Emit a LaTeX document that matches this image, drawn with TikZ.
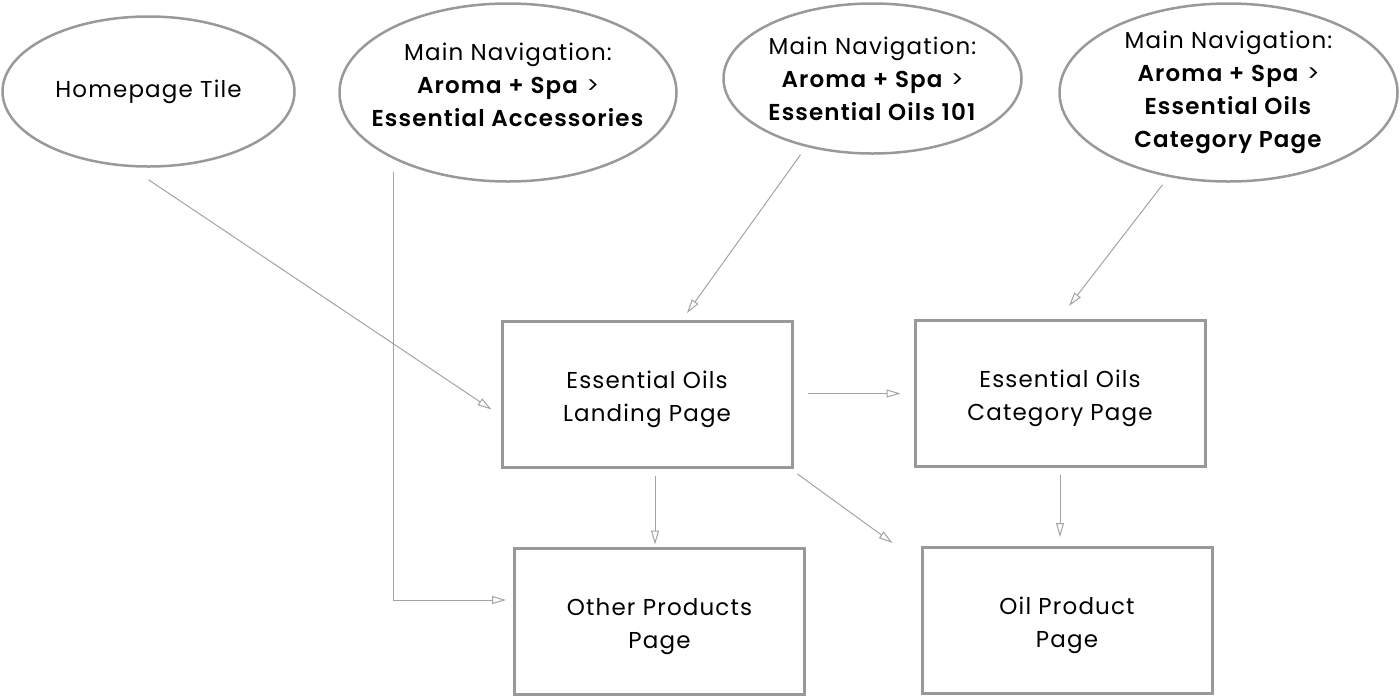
\documentclass[tikz,border=0pt]{standalone}
\usepackage{fontspec}
\setmainfont{Poppins}[LetterSpace=5, BoldFont={Poppins SemiBold}]
\usetikzlibrary{shapes.geometric,arrows.meta,calc}
\definecolor{boxgray}{HTML}{999999}
\definecolor{linkgray}{HTML}{A3A3A3}

\begin{document}
\begin{tikzpicture}[x=0.5pt,y=-0.5pt,
    font=\fontsize{11.5}{16.5}\selectfont,
    page/.style={draw=boxgray, line width=1.5pt, minimum width=145pt, minimum height=73pt,
        align=center, text height=27pt, text depth=0pt},
    navbubble/.style={ellipse, draw=boxgray, line width=1.25pt, inner sep=-20pt, align=center},
    link/.style={draw=linkgray, line width=0.5pt, -{Triangle[open,length=7pt,width=4pt]}}]
    \useasboundingbox (0,0) rectangle (1400,697);

    % Entry points
    \node[navbubble, minimum width=146pt, minimum height=75pt] (home) at (148.5,91.5) {Homepage Tile};
    \node[navbubble, minimum width=168.5pt, minimum height=89pt, text depth=8pt] (accnav) at (508,92.5)
        {Main Navigation:\\\textbf{Aroma + Spa} >\\\textbf{Essential Accessories}};
    \node[navbubble, minimum width=149pt, minimum height=75pt] (oilnav) at (872.5,78.5)
        {Main Navigation:\\\textbf{Aroma + Spa} >\\\textbf{Essential Oils 101}};
    \node[navbubble, minimum width=169pt, minimum height=89pt] (catnav) at (1228.5,92.5)
        {Main Navigation:\\\textbf{Aroma + Spa} >\\\textbf{Essential Oils}\\\textbf{Category Page}};

    % Pages
    \node[page] (landing) at (647,394.5) {Essential Oils\\Landing Page};
    \node[page] (category) at (1060,393.5) {Essential Oils\\Category Page};
    \node[page] (other) at (659.5,621) {Other Products\\Page};
    \node[page] (oilprod) at (1067,620.5) {Oil Product\\Page};

    % Links
    \draw[link] ($(home.south)+(0,12)$) -- ($(landing.west)+(-9,15)$);
    \draw[link] ($(accnav.south)+(-115,-11)$) |- ($(other.west)+(-7,-21)$);
    \draw[link] ($(oilnav.south)+(-72,0)$) -- ($(landing.north)+(40,-7)$);
    \draw[link] ($(catnav.south)+(-66,2)$) -- ($(category.north)+(9,-13)$);
    \draw[link] ($(landing.east)+(14,-1)$) -- ($(category.west)+(-13,0)$);
    \draw[link] ($(landing.south)+(8,7)$) -- ($(other.north)+(-4.5,-2)$);
    \draw[link] ($(landing.south east)+(4,5)$) -- ($(oilprod.north west)+(-28,-3)$);
    \draw[link] ($(category.south)+(0,7)$) -- ($(oilprod.north)+(-7,-9)$);
\end{tikzpicture}
\end{document}
